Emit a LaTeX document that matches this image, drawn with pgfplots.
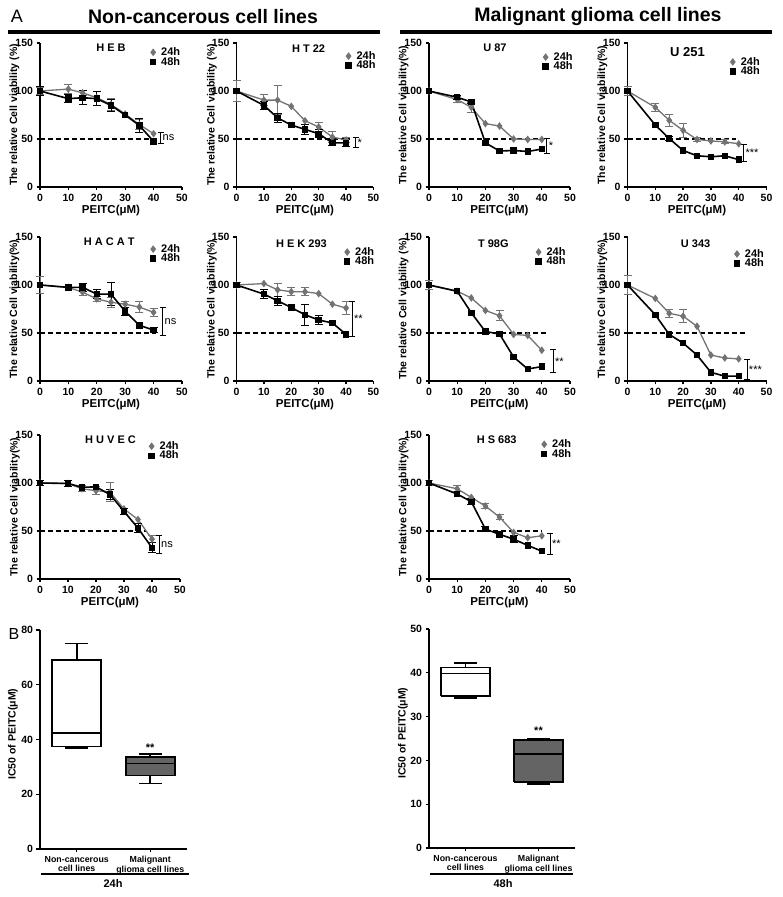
\documentclass[border=0pt]{standalone}
\usepackage{fontspec}
\setmainfont{Liberation Sans}
\usepackage{pgfplots}
\pgfplotsset{compat=1.18}
\usetikzlibrary{arrows.meta}
\definecolor{c24}{RGB}{115,115,115}
\definecolor{cbox}{RGB}{100,100,100}
\newcommand{\fs}[1]{\fontsize{#1}{#1}\selectfont}
\tikzset{brk/.style={line width=0.9pt, {Bar[width=6pt]}-{Bar[width=6pt]}}}
\pgfplotsset{
 base/.style={scale only axis, anchor=south west, axis lines=left,
   axis line style={-, line width=1.5pt}, tick align=outside, major tick length=3.5pt,
   every tick/.style={line width=1.3pt, black},
   /pgf/number format/assume math mode=true,
   xticklabel={\pgfmathprintnumber{\tick}}, yticklabel={\pgfmathprintnumber{\tick}},
   tick label style={font=\bfseries\fs{10.5}},
   clip=false,
   ylabel style={font=\bfseries\fs{10.5}, anchor=center},
   xlabel style={font=\bfseries\fs{11.5}, anchor=center}},
 vp/.style={base, height=144pt, xmin=0, xmax=50, ymin=0, ymax=150,
   xtick={0,10,20,30,40,50}, ytick={0,50,100,150}, xlabel={PEITC(μM)},
   xlabel style={at={(axis description cs:0.5,-0.165)}},
   ylabel style={at={(axis description cs:-0.18,0.5)}},
   legend style={draw=none, fill=none, font=\bfseries\fs{11}, anchor=north west,
     inner sep=0pt, row sep=-3pt, nodes={inner sep=1.5pt}},
   legend cell align=left,
   legend image code/.code={\draw[##1] plot coordinates {(0.1cm,0cm)}; \path (0cm,0cm) (0.3cm,0cm);}},
 s24/.style={c24, line width=1.3pt, mark=diamond*, mark size=2.8pt, mark options={solid, fill=c24, draw=c24}},
 s48/.style={black, line width=1.6pt, mark=square*, mark size=2.4pt, mark options={solid}},
 e24/.style={c24, forget plot, only marks, mark=none, error bars/y dir=both, error bars/y explicit,
   error bars/error bar style={line width=1pt, c24},
   error bars/error mark options={rotate=90, mark size=4pt, line width=1pt, c24}},
 e48/.style={black, forget plot, only marks, mark=none, error bars/y dir=both, error bars/y explicit,
   error bars/error bar style={line width=1pt, black},
   error bars/error mark options={rotate=90, mark size=4pt, line width=1pt, black}},
 dsh/.style={black, line width=1.1pt, dash pattern=on 5pt off 3pt, forget plot},
 bx/.style={black, line width=1.6pt, line join=miter},
 bp/.style={base, height=219pt, xmin=0.5, xmax=2.5, xtick={1,2},
   xticklabels={{Non-cancerous\\cell lines},{Malignant\\glioma cell lines}},
   xticklabel style={align=center, font=\bfseries\fontsize{8.8}{9.7}\selectfont},
   ylabel={IC50 of PEITC(μM)}, ylabel style={font=\bfseries\fs{10.5}}},
}
\newcommand{\ttl}[3][11]{\node[font=\bfseries\fs{#1}] at (axis cs:#2) {#3};}
\newcommand{\brk}[4]{\draw[brk] (axis cs:#1,#2) -- (axis cs:#1,#3) node[midway, right, font=\fs{11}, inner sep=1.5pt] {#4};}
\begin{document}
\begin{tikzpicture}
\useasboundingbox (0,0) rectangle (782pt,897pt);
% header
\node[font=\fs{18}] at (17pt,881pt) {A};
\node[font=\bfseries\fs{19.5}] at (203pt,880pt) {Non-cancerous cell lines};
\node[font=\bfseries\fs{19.5}] at (598pt,880pt) {Malignant glioma cell lines};
\draw[line width=4pt] (8pt,865pt) -- (380pt,865pt);
\draw[line width=4pt] (400pt,865pt) -- (772pt,865pt);
\node[font=\fs{16}] at (14pt,263pt) {B};

% HEB
\begin{axis}[vp, at={(40pt,710pt)}, width=142pt, ylabel={The relative Cell viability (\%)}, legend style={at={(axis cs:38.5,147)}}]
\addplot[dsh] coordinates {(0,50) (40,50)};
\addplot[e24] coordinates {(0,100) +- (0,4) (10,102) +- (0,4.5) (15,98) +- (0,3) (25,86) +- (0,6) (35,65) +- (0,5)};
\addplot[s24] coordinates {(0,100) (10,102) (15,98) (20,93) (25,86) (30,76) (35,65) (40,55.5)};
\addplot[e48] coordinates {(0,100) +- (0,5) (10,92) +- (0,4) (15,93) +- (0,7) (20,92) +- (0,7) (25,85) +- (0,6) (35,64) +- (0,7)};
\addplot[s48] coordinates {(0,100) (10,92) (15,93) (20,92) (25,85) (30,75) (35,64) (40,47.5)};
\legend{24h,48h}
\ttl{25,145}{H E B}
\brk{42.5}{57}{45}{ns}
\end{axis}

% HT22
\begin{axis}[vp, at={(236.5pt,710pt)}, width=137pt, ylabel={The relative Cell viability (\%)}, legend style={at={(axis cs:39.5,143)}}]
\addplot[dsh] coordinates {(0,50) (41,50)};
\addplot[e24] coordinates {(0,100) +- (0,10.5) (10,90.5) +- (0,6) (15,90.5) +- (0,15) (30,62.5) +- (0,5) (35,52) +- (0,6) (40,49) +- (0,3)};
\addplot[s24] coordinates {(0,100) (10,90.5) (15,90.5) (20,84) (25,69) (30,62.5) (35,52) (40,49)};
\addplot[e48] coordinates {(10,85) +- (0,4) (15,72) +- (0,4.5) (25,60) +- (0,5) (30,55.5) +- (0,4) (35,46) +- (0,3) (40,46) +- (0,4)};
\addplot[s48] coordinates {(0,100) (10,85) (15,72) (20,64.5) (25,60) (30,55.5) (35,46) (40,46)};
\legend{24h,48h}
\ttl{26.3,144}{H T 22}
\brk{43.5}{52}{41}{*}
\end{axis}

% U87
\begin{axis}[vp, at={(429pt,710pt)}, width=141pt, ylabel={The relative Cell viability(\%)}, legend style={at={(axis cs:40,142)}}]
\addplot[dsh] coordinates {(0,50) (40.5,50)};
\addplot[e24] coordinates {(10,91) +- (0,3) (15,83) +- (0,5)};
\addplot[s24] coordinates {(0,100) (10,91) (15,83) (20,66) (25,63.5) (30,50) (35,49.5) (40,49.5)};
\addplot[e48] coordinates {(10,93.5) +- (0,2) (15,88.5) +- (0,2)};
\addplot[s48] coordinates {(0,100) (10,93.5) (15,88.5) (20,46) (25,37.5) (30,38) (35,37) (40,39.5)};
\legend{24h,48h}
\ttl{23.4,145}{U 87}
\brk{41.8}{51.5}{34}{*}
\end{axis}

% U251
\begin{axis}[vp, at={(627.5pt,710pt)}, width=139pt, ylabel={The relative Cell viability(\%)}, legend style={at={(axis cs:36.5,137)}}]
\addplot[dsh] coordinates {(0,50) (39,50)};
\addplot[e24] coordinates {(0,100) +- (0,5) (10,83) +- (0,4) (15,69.5) +- (0,6) (20,59) +- (0,7) (25,49.5) +- (0,2) (35,47) +- (0,2)};
\addplot[s24] coordinates {(0,100) (10,83) (15,69.5) (20,59) (25,49.5) (30,48) (35,47) (40,45)};
\addplot[e48] coordinates {(15,50.5) +- (0,2)};
\addplot[s48] coordinates {(0,100) (10,64.5) (15,50.5) (20,38) (25,32.5) (30,31.5) (35,32.5) (40,28.5)};
\legend{24h,48h}
\ttl[13]{21.6,141}{U 251}
\brk{41.8}{45}{26}{***}
\end{axis}

% HACAT
\begin{axis}[vp, at={(40pt,516pt)}, width=142pt, ylabel={The relative Cell viability(\%)}, legend style={at={(axis cs:38.5,144)}}]
\addplot[dsh] coordinates {(0,50) (41,50)};
\addplot[e24] coordinates {(0,100) +- (0,9) (15,92.5) +- (0,3) (20,85.5) +- (0,3) (25,82) +- (0,5) (30,80) +- (0,3) (35,77) +- (0,6) (40,71.5) +- (0,4)};
\addplot[s24] coordinates {(0,100) (10,97.5) (15,92.5) (20,85.5) (25,82) (30,80) (35,77) (40,71.5)};
\addplot[e48] coordinates {(15,97.5) +- (0,4) (20,90.5) +- (0,5) (25,90.5) +- (0,12) (30,72.5) +- (0,4) (40,53) +- (0,3)};
\addplot[s48] coordinates {(0,100) (10,97.5) (15,97.5) (20,90.5) (25,90.5) (30,72.5) (35,58) (40,53)};
\legend{24h,48h}
\ttl{24.4,145}{H A C A T}
\brk{43.2}{77.5}{47}{ns}
\end{axis}

% HEK293
\begin{axis}[vp, at={(236.5pt,516pt)}, width=137pt, ylabel={The relative Cell viability(\%)}, legend style={at={(axis cs:39,141)}}]
\addplot[dsh] coordinates {(0,50) (40,50)};
\addplot[e24] coordinates {(0,100) +- (0,3) (15,95) +- (0,7) (20,93) +- (0,4) (25,93) +- (0,4) (40,76) +- (0,7)};
\addplot[s24] coordinates {(0,100) (10,101.5) (15,95) (20,93) (25,93) (30,91) (35,80) (40,76)};
\addplot[e48] coordinates {(10,90.5) +- (0,5) (15,83.5) +- (0,5) (25,69) +- (0,11) (30,63.5) +- (0,5)};
\addplot[s48] coordinates {(0,100) (10,90.5) (15,83.5) (20,76.5) (25,69) (30,63.5) (35,60.5) (40,48.5)};
\legend{24h,48h}
\ttl{23.7,143.5}{H E K 293}
\brk{42.2}{83.5}{46}{**}
\end{axis}

% T98G
\begin{axis}[vp, at={(429pt,516pt)}, width=141pt, ylabel={The relative Cell viability (\%)}, legend style={at={(axis cs:37.5,141)}}]
\addplot[dsh] coordinates {(0,50) (41.5,50)};
\addplot[e24] coordinates {(0,100) +- (0,5) (25,68) +- (0,5)};
\addplot[s24] coordinates {(0,100) (10,93.5) (15,86.5) (20,73.5) (25,68) (30,48.5) (35,47.5) (40,32)};
\addplot[s48] coordinates {(0,100) (10,93.5) (15,71) (20,51.5) (25,49) (30,25) (35,12.5) (40,15)};
\legend{24h,48h}
\ttl{22.8,143.5}{T 98G}
\brk{44}{33}{8}{**}
\end{axis}

% U343
\begin{axis}[vp, at={(627.5pt,516pt)}, width=139pt, ylabel={The relative Cell viability(\%)}, legend style={at={(axis cs:38,139)}}]
\addplot[dsh] coordinates {(0,50) (43,50)};
\addplot[e24] coordinates {(0,100) +- (0,10) (15,70.5) +- (0,4) (20,67.5) +- (0,7)};
\addplot[s24] coordinates {(0,100) (10,86) (15,70.5) (20,67.5) (25,57) (30,27) (35,24) (40,23)};
\addplot[s48] coordinates {(0,100) (10,69) (15,48.5) (20,39.5) (25,27) (30,9) (35,5) (40,5)};
\legend{24h,48h}
\ttl{24.5,143.5}{U 343}
\brk{43}{23}{1}{***}
\end{axis}

% HUVEC
\begin{axis}[vp, at={(40pt,318pt)}, width=140pt, ylabel={The relative Cell viability(\%)}, legend style={at={(axis cs:38.5,145)}}]
\addplot[dsh] coordinates {(0,50) (38,50)};
\addplot[e24] coordinates {(15,94) +- (0,3) (20,92) +- (0,4) (25,90.5) +- (0,10) (40,41.5) +- (0,4)};
\addplot[s24] coordinates {(0,100) (10,99.5) (15,94) (20,92) (25,90.5) (30,73) (35,62) (40,41.5)};
\addplot[e48] coordinates {(0,100) +- (0,3) (10,99.5) +- (0,3) (25,88) +- (0,5) (30,70.5) +- (0,3) (35,53) +- (0,5) (40,32.5) +- (0,5)};
\addplot[s48] coordinates {(0,100) (10,99.5) (15,95.5) (20,96) (25,88) (30,70.5) (35,53) (40,32.5)};
\legend{24h,48h}
\ttl{25.2,145}{H U V E C}
\brk{42.6}{46}{26.5}{ns}
\end{axis}

% HS683
\begin{axis}[vp, at={(429pt,318pt)}, width=141pt, ylabel={The relative Cell viability(\%)}, legend style={at={(axis cs:39.5,147)}}]
\addplot[dsh] coordinates {(0,50) (40,50)};
\addplot[e24] coordinates {(0,100) +- (0,3) (10,94) +- (0,3) (20,76) +- (0,3) (25,64.5) +- (0,3)};
\addplot[s24] coordinates {(0,100) (10,94) (15,85) (20,76) (25,64.5) (30,48.5) (35,43) (40,45)};
\addplot[e48] coordinates {(15,80.5) +- (0,3) (20,52) +- (0,3) (30,41.5) +- (0,4)};
\addplot[s48] coordinates {(0,100) (10,88.5) (15,80.5) (20,52) (25,46.5) (30,41.5) (35,35) (40,29)};
\legend{24h,48h}
\ttl{24,145}{H S 683}
\brk{43}{48}{25}{**}
\end{axis}

% Box 24h
\begin{axis}[bp, at={(40pt,48pt)}, width=147pt, ymin=0, ymax=80, ytick={0,20,40,60,80},
  ylabel style={at={(axis description cs:-0.184,0.525)}}]
% non-cancerous: whiskers 37 / 75.1, quartiles 37.4 / 69, median 42.3
\addplot[bx] coordinates {(1,69) (1,75.1)};
\addplot[bx] coordinates {(0.845,75.1) (1.155,75.1)};
\addplot[bx] coordinates {(0.845,37) (1.155,37)};
\addplot[bx, fill=white] coordinates {(0.667,37.4) (1.333,37.4) (1.333,69) (0.667,69) (0.667,37.4)};
\addplot[bx] coordinates {(0.667,42.3) (1.333,42.3)};
% malignant: whiskers 24 / 34.7, quartiles 26.8 / 33.5, median 31.3
\addplot[bx] coordinates {(2,33.5) (2,34.7)};
\addplot[bx] coordinates {(1.845,34.7) (2.155,34.7)};
\addplot[bx] coordinates {(2,26.8) (2,24)};
\addplot[bx] coordinates {(1.845,24) (2.155,24)};
\addplot[bx, fill=cbox] coordinates {(1.667,26.8) (2.333,26.8) (2.333,33.5) (1.667,33.5) (1.667,26.8)};
\addplot[bx] coordinates {(1.667,31.3) (2.333,31.3)};
\node[font=\bfseries\fs{11}] at (axis cs:2,37) {**};
\end{axis}
\draw[line width=1.5pt] (41pt,23pt) -- (189pt,23pt);
\node[font=\bfseries\fs{11}] at (113pt,13pt) {24h};

% Box 48h
\begin{axis}[bp, at={(429pt,49pt)}, width=146pt, ymin=0, ymax=50, ytick={0,10,20,30,40,50},
  ylabel style={at={(axis description cs:-0.178,0.525)}}]
% non-cancerous: whiskers 34.2 / 42.3, quartiles 34.7 / 41.2, median 39.8
\addplot[bx] coordinates {(1,41.2) (1,42.3)};
\addplot[bx] coordinates {(0.845,42.3) (1.155,42.3)};
\addplot[bx] coordinates {(1,34.7) (1,34.2)};
\addplot[bx] coordinates {(0.845,34.2) (1.155,34.2)};
\addplot[bx, fill=white] coordinates {(0.667,34.7) (1.333,34.7) (1.333,41.2) (0.667,41.2) (0.667,34.7)};
\addplot[bx] coordinates {(0.667,39.8) (1.333,39.8)};
% malignant: whiskers 14.6 / 24.9, quartiles 15 / 24.7, median 21.5
\addplot[bx] coordinates {(1.845,24.9) (2.155,24.9)};
\addplot[bx] coordinates {(1.845,14.6) (2.155,14.6)};
\addplot[bx, fill=cbox] coordinates {(1.667,15) (2.333,15) (2.333,24.7) (1.667,24.7) (1.667,15)};
\addplot[bx] coordinates {(1.667,21.5) (2.333,21.5)};
\node[font=\bfseries\fs{11}] at (axis cs:2,26.8) {**};
\end{axis}
\draw[line width=1.5pt] (430pt,23pt) -- (573pt,23pt);
\node[font=\bfseries\fs{11}] at (503pt,13pt) {48h};
\end{tikzpicture}
\end{document}
